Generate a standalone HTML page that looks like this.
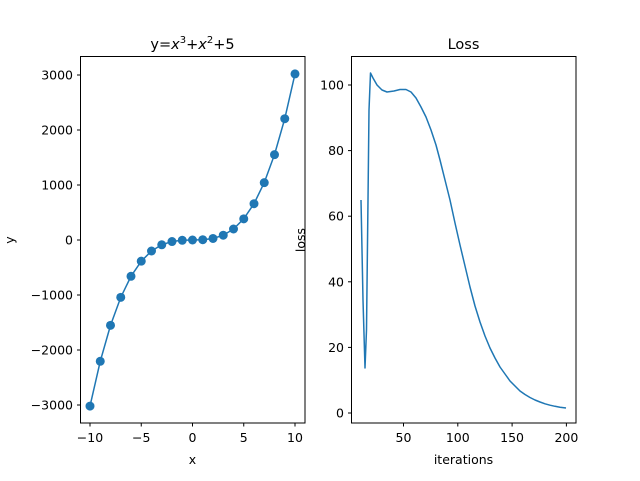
<!DOCTYPE html>
<html><head><style>body{margin:0;background:#fff}svg text{font-family:"DejaVu Sans","Liberation Sans",sans-serif;fill:#000}</style></head>
<body>
<svg width="640" height="476" xmlns="http://www.w3.org/2000/svg">
<rect width="640" height="476" fill="#fff"/>
<text x="192.5" y="49" text-anchor="middle" font-size="14.5">y=<tspan font-style="italic">x</tspan><tspan dy="-6" font-size="10">3</tspan><tspan dy="6">+</tspan><tspan font-style="italic">x</tspan><tspan dy="-6" font-size="10">2</tspan><tspan dy="6">+5</tspan></text>
<text x="463.5" y="49" text-anchor="middle" font-size="14.5">Loss</text>
<g id="left"></g>
<g id="right"></g>
<script>
const NS="http://www.w3.org/2000/svg";
function el(p,t,a,txt){const e=document.createElementNS(NS,t);for(const k in a)e.setAttribute(k,a[k]);if(txt!==undefined)e.textContent=txt;p.appendChild(e);return e;}
const L=document.getElementById('left'),R=document.getElementById('right');
const FS='12.5';
const px=x=>192.5+10.25*x, py=y=>240-0.055*y;
let pts=[];for(let x=-10;x<=10;x++){pts.push([px(x),py(3*x*x*x+2*x)]);}
el(L,'polyline',{points:pts.map(p=>p.join(',')).join(' '),fill:'none',stroke:'#1f77b4','stroke-width':1.5});
pts.forEach(p=>el(L,'circle',{cx:p[0],cy:p[1],r:4.5,fill:'#1f77b4'}));
el(L,'rect',{x:80.5,y:56.5,width:224.5,height:366.5,fill:'none',stroke:'#000','stroke-width':1});
[-10,-5,0,5,10].forEach(v=>{const x=px(v);el(L,'line',{x1:x,x2:x,y1:423,y2:426.5,stroke:'#000'});el(L,'text',{x:x,y:442,'text-anchor':'middle','font-size':FS},v<0?'−'+(-v):v);});
[-3000,-2000,-1000,0,1000,2000,3000].forEach(v=>{const y=py(v);el(L,'line',{x1:77,x2:80.5,y1:y,y2:y,stroke:'#000'});el(L,'text',{x:73,y:y+4.5,'text-anchor':'end','font-size':FS},v<0?'−'+(-v):v);});
el(L,'text',{x:192.5,y:464,'text-anchor':'middle','font-size':FS},'x');
el(L,'text',{x:14,y:240,'text-anchor':'middle','font-size':FS,transform:'rotate(-90 14 240)'},'y');
const rx=i=>403.5+(i-50)*1.086, ry=v=>413-3.28*v;
const rp=[[361,200],[363,300],[365,368],[366.5,330],[368,200],[369,110],[370.5,73],[373,78],[377,85],[382,90],[387,92],[394,91],[400,89.5],[406,89.5],[411,92],[416,98],[421,107],[426,117],[431,130],[436,145],[440,160],[445,180],[450,200],[455,223],[460,245],[465,266],[470,287],[475,306],[480,322],[485,336],[490,348],[495,358],[500,367],[505,374],[510,381],[515,386],[520,391],[525,394.5],[530,397.5],[535,400],[540,402],[545,403.8],[550,405.2],[555,406.3],[560,407.2],[566,408]];
el(R,'polyline',{points:rp.map(p=>p.join(',')).join(' '),fill:'none',stroke:'#1f77b4','stroke-width':1.5,'stroke-linejoin':'round'});
el(R,'rect',{x:351.5,y:56.5,width:224.5,height:366.5,fill:'none',stroke:'#000','stroke-width':1});
[50,100,150,200].forEach(v=>{const x=rx(v);el(R,'line',{x1:x,x2:x,y1:423,y2:426.5,stroke:'#000'});el(R,'text',{x:x,y:442,'text-anchor':'middle','font-size':FS},v);});
[0,20,40,60,80,100].forEach(v=>{const y=ry(v);el(R,'line',{x1:348,x2:351.5,y1:y,y2:y,stroke:'#000'});el(R,'text',{x:344,y:y+4.5,'text-anchor':'end','font-size':FS},v);});
el(R,'text',{x:463.5,y:464,'text-anchor':'middle','font-size':FS},'iterations');
el(R,'text',{x:305,y:240,'text-anchor':'middle','font-size':FS,transform:'rotate(-90 305 240)'},'loss');
</script>
</svg>
</body></html>
